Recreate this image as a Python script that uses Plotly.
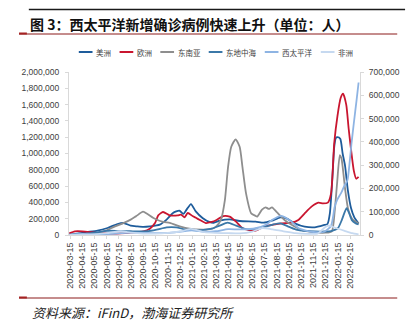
import plotly.graph_objects as go

# ---------------- data ----------------
names = ["美洲", "欧洲", "东南亚", "东地中海", "西太平洋", "非洲"]

americas_dates = ["2020-03-13", "2020-03-25", "2020-04-21", "2020-05-23", "2020-06-17", "2020-07-12",
                  "2020-07-28", "2020-08-14", "2020-08-30", "2020-09-15", "2020-10-01", "2020-10-26",
                  "2020-11-12", "2020-11-28", "2020-12-14", "2020-12-24", "2021-01-01", "2021-01-12",
                  "2021-01-24", "2021-02-10", "2021-02-27", "2021-03-10", "2021-03-25", "2021-04-19",
                  "2021-05-14", "2021-06-23", "2021-07-13", "2021-08-03", "2021-08-24", "2021-09-08",
                  "2021-09-29", "2021-10-24", "2021-11-18", "2021-12-12", "2021-12-20", "2021-12-26",
                  "2022-01-01", "2022-01-06", "2022-01-10", "2022-01-14", "2022-01-21", "2022-01-27",
                  "2022-02-02", "2022-02-09", "2022-02-17", "2022-02-25", "2022-03-08"]
americas = [2000, 10000, 33000, 53000, 86000, 135000,
            147000, 115000, 106000, 100000, 106000, 127000,
            188000, 270000, 299000, 258000, 311000, 380000,
            290000, 209000, 160000, 150000, 176000, 192000,
            172000, 164000, 151000, 176000, 217000, 204000,
            143000, 102000, 94000, 123000, 135000, 266000,
            675000, 1080000, 1190000, 1200000, 1180000, 1000000,
            850000, 550000, 330000, 220000, 140000]

europe_dates = ["2020-03-13", "2020-03-27", "2020-04-15", "2020-05-23", "2020-07-03", "2020-08-14",
                "2020-09-15", "2020-10-01", "2020-10-14", "2020-10-22", "2020-11-03", "2020-11-20",
                "2020-12-10", "2020-12-18", "2020-12-27", "2021-01-04", "2021-01-17", "2021-02-02",
                "2021-02-18", "2021-03-05", "2021-03-17", "2021-04-03", "2021-04-19", "2021-05-05",
                "2021-05-21", "2021-06-06", "2021-06-23", "2021-07-13", "2021-08-03", "2021-08-27",
                "2021-09-21", "2021-10-08", "2021-10-24", "2021-11-10", "2021-11-27", "2021-12-09",
                "2021-12-21", "2021-12-29", "2022-01-06", "2022-01-14", "2022-01-22", "2022-01-28",
                "2022-02-05", "2022-02-11", "2022-02-17", "2022-02-24", "2022-03-02", "2022-03-08"]
europe = [20000, 45000, 45000, 25000, 16000, 29000,
          45000, 78000, 147000, 241000, 282000, 241000,
          241000, 250000, 217000, 270000, 229000, 188000,
          147000, 160000, 184000, 233000, 225000, 164000,
          82000, 61000, 53000, 102000, 123000, 143000,
          151000, 184000, 266000, 348000, 397000, 388000,
          397000, 511000, 1130000, 1460000, 1680000, 1735000,
          1600000, 1310000, 1050000, 790000, 690000, 712000]

sea_dates = ["2020-03-13", "2020-04-15", "2020-05-23", "2020-06-15", "2020-07-03", "2020-07-28",
             "2020-08-14", "2020-08-27", "2020-09-14", "2020-09-25", "2020-10-10", "2020-11-03",
             "2020-11-20", "2020-12-15", "2021-01-08", "2021-02-10", "2021-03-01", "2021-03-15",
             "2021-03-28", "2021-04-07", "2021-04-15", "2021-04-23", "2021-05-04", "2021-05-14",
             "2021-05-21", "2021-05-30", "2021-06-12", "2021-06-22", "2021-06-27", "2021-07-09",
             "2021-07-18", "2021-07-26", "2021-08-03", "2021-08-15", "2021-09-05", "2021-09-20",
             "2021-10-15", "2021-11-15", "2021-12-15", "2021-12-31", "2022-01-07", "2022-01-13",
             "2022-01-20", "2022-01-24", "2022-02-02", "2022-02-10", "2022-02-22", "2022-03-08"]
sea = [300, 2000, 9000, 20000, 35000, 52000,
       66000, 80000, 100000, 90000, 73000, 56000,
       52000, 37000, 27000, 23000, 25000, 35000,
       65000, 150000, 293000, 379000, 411000, 379000,
       293000, 179000, 93000, 83000, 79000, 109000,
       119000, 112000, 119000, 98000, 62000, 45000,
       22000, 12000, 10000, 16000, 100000, 220000,
       343000, 330000, 200000, 110000, 65000, 50000]

emr_dates = ["2020-03-13", "2020-04-15", "2020-05-15", "2020-06-15", "2020-07-15", "2020-08-14",
             "2020-09-24", "2020-10-18", "2020-11-12", "2020-12-06", "2020-12-30", "2021-02-02",
             "2021-03-05", "2021-03-25", "2021-04-14", "2021-05-05", "2021-05-30", "2021-06-20",
             "2021-07-15", "2021-08-05", "2021-08-24", "2021-09-15", "2021-10-05", "2021-11-18",
             "2021-12-15", "2021-12-29", "2022-01-15", "2022-01-25", "2022-01-31", "2022-02-06",
             "2022-02-12", "2022-02-19", "2022-03-01", "2022-03-08"]
emr = [1000, 4000, 10000, 18000, 17000, 16000,
       16000, 23000, 33000, 33000, 23000, 20000,
       27000, 40000, 53000, 40000, 25000, 26000,
       35000, 45000, 50000, 35000, 22000, 15000,
       15000, 17000, 29000, 65000, 93000, 115000,
       95000, 64000, 50000, 45000]

wpr_dates = ["2020-03-13", "2020-04-15", "2020-05-15", "2020-06-15", "2020-07-15", "2020-08-15",
             "2020-09-15", "2020-10-15", "2020-11-15", "2020-12-15", "2021-01-15", "2021-02-15",
             "2021-03-15", "2021-04-15", "2021-05-14", "2021-06-23", "2021-07-20", "2021-08-03",
             "2021-08-27", "2021-09-21", "2021-10-09", "2021-11-10", "2021-12-12", "2021-12-29",
             "2022-01-07", "2022-01-13", "2022-01-23", "2022-01-31", "2022-02-08", "2022-02-14",
             "2022-02-18", "2022-02-24", "2022-03-03", "2022-03-08"]
wpr = [2000, 5000, 3000, 4000, 7000, 10000,
       9000, 8000, 9000, 14000, 20000, 14000,
       16000, 25000, 24000, 29000, 45000, 64000,
       82000, 57000, 29000, 14000, 14000, 40000,
       120000, 150000, 180000, 210000, 235000, 320000,
       390000, 480000, 580000, 655000]

afr_dates = ["2020-03-13", "2020-04-15", "2020-05-15", "2020-06-15", "2020-07-20", "2020-08-15",
             "2020-09-15", "2020-10-15", "2020-11-15", "2020-12-15", "2021-01-12", "2021-02-15",
             "2021-03-15", "2021-04-15", "2021-05-15", "2021-06-15", "2021-07-10", "2021-08-05",
             "2021-09-01", "2021-10-01", "2021-11-01", "2021-11-25", "2021-12-15", "2021-12-25",
             "2022-01-10", "2022-02-01", "2022-02-20", "2022-03-08"]
afr = [300, 1000, 3000, 8000, 16000, 10000,
       6000, 6000, 9000, 15000, 26000, 12000,
       9000, 8000, 7000, 15000, 30000, 24000,
       16000, 8000, 5000, 6000, 35000, 40000,
       30000, 18000, 8000, 3000]

tick_dates = ["2020-03-15", "2020-04-15", "2020-05-15", "2020-06-15", "2020-07-15", "2020-08-15",
              "2020-09-15", "2020-10-15", "2020-11-15", "2020-12-15", "2021-01-15", "2021-02-15",
              "2021-03-15", "2021-04-15", "2021-05-15", "2021-06-15", "2021-07-15", "2021-08-15",
              "2021-09-15", "2021-10-15", "2021-11-15", "2021-12-15", "2022-01-15", "2022-02-15"]

title_text = "图 3：西太平洋新增确诊病例快速上升（单位：人）"
source_text = "资料来源：iFinD，渤海证券研究所"

# ---------------- styling ----------------
colors = ["#1E5C9B", "#C9152F", "#8E8E8E", "#3B78A8", "#8EB4E3", "#C6D9F0"]
yaxes = ["y", "y", "y2", "y2", "y2", "y2"]
series = [(americas_dates, americas), (europe_dates, europe), (sea_dates, sea),
          (emr_dates, emr), (wpr_dates, wpr), (afr_dates, afr)]

W, H = 412, 336
L, R, T, B = 69, 46, 72, 101
PW, PH = W - L - R, H - T - B


def px2x(px):
    return (px - L) / PW


def px2y(py):
    return (H - B - py) / PH


CJK = "Noto Sans CJK SC"
NUM = "Liberation Sans Narrow, Liberation Sans, Arial"

fig = go.Figure()
for (d, v), n, c, ya in zip(series, names, colors, yaxes):
    fig.add_trace(go.Scatter(x=d, y=v, name=n, mode="lines", yaxis=ya,
                             line=dict(color=c, width=1.8, shape="spline", smoothing=0.6)))

fig.update_layout(
    width=W, height=H,
    margin=dict(l=L, r=R, t=T, b=B, pad=0),
    paper_bgcolor="white", plot_bgcolor="white",
    showlegend=False,
    font=dict(family=NUM, color="#404040"),
    xaxis=dict(type="date", range=["2020-03-12 12:00", "2022-03-11 12:00"],
               tickmode="array", tickvals=tick_dates, ticktext=tick_dates,
               tickangle=-90, tickfont=dict(size=9, family="Liberation Sans, Arial", color="#404040"),
               showline=True, linecolor="#D9D9D9", linewidth=1,
               ticks="outside", ticklen=3, tickcolor="#D9D9D9",
               showgrid=False, zeroline=False),
    yaxis=dict(range=[0, 2000000], tick0=0, dtick=200000, tickformat=",",
               tickfont=dict(size=8.5, color="#404040"),
               showline=True, linecolor="#D9D9D9", ticks="outside", ticklen=3,
               tickcolor="#D9D9D9", showgrid=False, zeroline=False, ticklabelstandoff=4),
    yaxis2=dict(range=[0, 700000], tick0=0, dtick=100000, tickformat=",",
                overlaying="y", side="right",
                tickfont=dict(size=8.5, color="#404040"),
                showline=True, linecolor="#D9D9D9", ticks="outside", ticklen=3,
                tickcolor="#D9D9D9", showgrid=False, zeroline=False, ticklabelstandoff=3),
)

shapes = []
annotations = []
# top rule, title rule, bottom rule
shapes.append(dict(type="line", xref="paper", yref="paper", x0=px2x(28), x1=px2x(412),
                   y0=px2y(9.5), y1=px2y(9.5), line=dict(color="#1A1A1A", width=1.3)))
for yy in (34, 298):
    shapes.append(dict(type="line", xref="paper", yref="paper", x0=px2x(18), x1=px2x(404),
                       y0=px2y(yy), y1=px2y(yy), line=dict(color="#8B1A1A", width=1)))
    shapes.append(dict(type="line", xref="paper", yref="paper", x0=px2x(18), x1=px2x(26),
                       y0=px2y(yy - 0.5), y1=px2y(yy - 0.5), line=dict(color="#A52222", width=2)))

annotations.append(dict(xref="paper", yref="paper", x=px2x(27), y=px2y(24), xanchor="left",
                        yanchor="middle", showarrow=False, text="<b>" + title_text + "</b>",
                        font=dict(family=CJK, size=14, color="#111111")))
annotations.append(dict(xref="paper", yref="paper", x=px2x(29), y=px2y(312), xanchor="left",
                        yanchor="middle", showarrow=False, text="<i>" + source_text + "</i>",
                        font=dict(family=CJK, size=13, color="#222222")))

# custom legend
lx = 79
ly = 52
for n, c in zip(names, colors):
    shapes.append(dict(type="line", xref="paper", yref="paper", x0=px2x(lx), x1=px2x(lx + 14),
                       y0=px2y(ly), y1=px2y(ly), line=dict(color=c, width=2)))
    annotations.append(dict(xref="paper", yref="paper", x=px2x(lx + 16), y=px2y(ly),
                            xanchor="left", yanchor="middle", showarrow=False, text=n,
                            font=dict(family=CJK, size=7.5, color="#404040")))
    lx += 14 + 2 + len(n) * 7.8 + 10

fig.update_layout(shapes=shapes, annotations=annotations)
fig.write_html("out.html")
